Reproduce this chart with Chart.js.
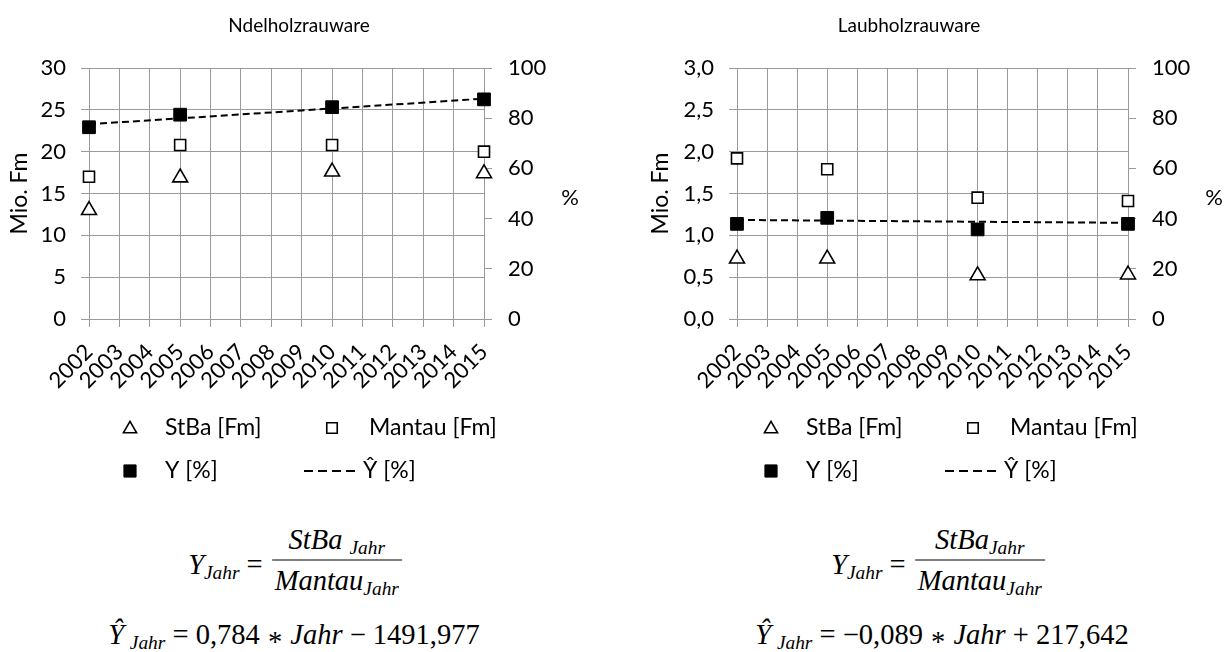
<!DOCTYPE html>
<html>
<head>
<meta charset="utf-8">
<script src="https://cdn.jsdelivr.net/npm/chart.js@4.4.0/dist/chart.umd.min.js"></script>
<style>
  html, body { margin: 0; padding: 0; background: #fff; }
  body { width: 1230px; height: 652px; overflow: hidden; position: relative; }
  .cv { position: absolute; top: 0; }
  .eq { position: absolute; font-family: 'Liberation Serif', serif; font-size: 28.5px; color: #000;
        white-space: nowrap; transform: translateX(-50%); }
  .eq i { font-style: italic; }
  .eq sub { font-size: 0.68em; font-style: italic; vertical-align: -0.28em; line-height: 0; }
  .eq .ast { position: relative; top: 0.24em; padding: 0 1px; }
  .eq1 { display: flex; align-items: center; transform: translate(-50%, -50%); }
  .eq1 .lhs { position: relative; top: 4px; line-height: 34px; margin-right: 9px; }
  .frac { display: flex; flex-direction: column; align-items: stretch; text-align: center; }
  .frac .n { line-height: 34px; padding: 0 3px 3px; border-bottom: 1.6px solid #000; }
  .frac .d { line-height: 34px; padding: 3px 3px 0; }
  .eq2 { line-height: 28px; }
</style>
</head>
<body>
<canvas id="cNadel" class="cv" style="left:0px" width="615" height="500"></canvas>
<canvas id="cLaub" class="cv" style="left:615px" width="615" height="500"></canvas>
<div id="eqN1" class="eq eq1" style="left:295px; top:560px"></div>
<div id="eqN2" class="eq eq2" style="left:294px; top:621px"></div>
<div id="eqL1" class="eq eq1" style="left:938px; top:560px"></div>
<div id="eqL2" class="eq eq2" style="left:942px; top:621px"></div>
<script>
// Category axis: every year from 2002 to 2015
const years = ['2002','2003','2004','2005','2006','2007','2008','2009','2010','2011','2012','2013','2014','2015'];
// Survey years with values
const surveyYears = ['2002','2005','2010','2015'];

// Nadelholz (Mio. Fm / %)
const nadelStBa   = [13.0, 16.9, 17.6, 17.4];
const nadelMantau = [17.0, 20.8, 20.8, 20.0];
const nadelY      = [76.4, 81.4, 84.4, 87.5];
const nadelTrend  = [0.784, -1491.977];   // slope, intercept

// Laubholz (Mio. Fm / %)
const laubStBa   = [0.72, 0.72, 0.52, 0.53];
const laubMantau = [1.92, 1.79, 1.45, 1.41];
const laubY      = [37.9, 40.3, 35.7, 37.9];
const laubTrend  = [-0.089, 217.642];     // slope, intercept

// Axis ticks
const nadelTicks = [0, 5, 10, 15, 20, 25, 30];
const laubTicks  = [0, 0.5, 1, 1.5, 2, 2.5, 3];
const pctTicks   = [0, 20, 40, 60, 80, 100];

const FONT = 'Lato';
const GRID = '#9a9a9a';
Chart.defaults.font.family = FONT;
Chart.defaults.color = '#000';

const fmtDe = (v, d) => v.toFixed(d).replace('.', ',');
const pts = vals => surveyYears.map((yr, i) => ({ x: yr, y: vals[i] }));
const trendPts = c => [years[0], years[years.length - 1]].map(yr => ({ x: yr, y: c[0] * Number(yr) + c[1] }));

// Titles, the "%" axis caption and a two-column legend drawn on the canvas
const decor = {
  id: 'decor',
  afterDraw(chart, args, o) {
    const ctx = chart.ctx;
    ctx.save();
    ctx.fillStyle = '#000';
    ctx.textBaseline = 'middle';
    ctx.textAlign = 'center';
    ctx.font = `${o.titleSize}px ${FONT}`;
    ctx.fillText(o.title, o.titleX, o.titleY);
    ctx.font = `${o.pctSize}px ${FONT}`;
    ctx.fillText('%', o.pctX, o.pctY);

    ctx.textAlign = 'left';
    ctx.font = `${o.legendSize}px ${FONT}`;
    const L = o.legend;
    const ds = chart.data.datasets;
    const marker = (d, x, y, r) => {
      ctx.save();
      ctx.fillStyle = d.backgroundColor;
      ctx.strokeStyle = d.borderColor;
      ctx.lineWidth = d.borderWidth;
      Chart.helpers.drawPoint(ctx, { pointStyle: d.pointStyle, radius: r, rotation: 0, borderWidth: d.borderWidth }, x, y);
      ctx.restore();
    };
    // row 1: StBa, Mantau ; row 2: Y, Ŷ
    marker(ds[3], L.m1, L.r1 + 1, 7.6);
    ctx.fillText(ds[3].label, L.t1, L.r1);
    marker(ds[2], L.m2, L.r1, 7.4);
    ctx.fillText(ds[2].label, L.t2, L.r1);
    marker(ds[0], L.m1, L.r2, 8.6);
    ctx.fillText(ds[0].label, L.t1, L.r2);
    ctx.save();
    ctx.strokeStyle = ds[1].borderColor;
    ctx.lineWidth = ds[1].borderWidth;
    ctx.setLineDash(L.dash);
    ctx.beginPath();
    ctx.moveTo(L.d0, L.r2);
    ctx.lineTo(L.d1, L.r2);
    ctx.stroke();
    ctx.restore();
    ctx.fillText(ds[1].label, L.t3, L.r2);
    ctx.restore();
  }
};

function makeChart(id, c) {
  const tickFont = { size: c.fontSize };
  return new Chart(document.getElementById(id), {
    type: 'line',
    data: {
      labels: years,
      datasets: [
        { label: 'Y [%]', data: pts(c.y), yAxisID: 'yR', showLine: false,
          pointStyle: 'rect', pointRadius: 9, backgroundColor: '#000', borderColor: '#000', borderWidth: 1, order: 0 },
        { label: 'Ŷ [%]', data: trendPts(c.trend), yAxisID: 'yR', showLine: true,
          borderColor: '#000', backgroundColor: '#000', borderWidth: 2, borderDash: [7, 4], pointRadius: 0, fill: false, order: 1 },
        { label: 'Mantau [Fm]', data: pts(c.mantau), yAxisID: 'yL', showLine: false,
          pointStyle: 'rect', pointRadius: 7.8, backgroundColor: '#fff', borderColor: '#000', borderWidth: 1.6, order: 2 },
        { label: 'StBa [Fm]', data: pts(c.stba), yAxisID: 'yL', showLine: false,
          pointStyle: 'triangle', pointRadius: 8.6, backgroundColor: '#fff', borderColor: '#000', borderWidth: 1.6, order: 3 }
      ]
    },
    options: {
      responsive: false,
      animation: false,
      devicePixelRatio: 1,
      layout: { padding: { top: 68, left: 0, right: 0, bottom: 500 - 319 - 80 } },
      plugins: {
        legend: { display: false },
        tooltip: { enabled: false },
        decor: c.decor
      },
      scales: {
        x: {
          type: 'category',
          offset: false,
          grid: { color: GRID, lineWidth: 1, tickLength: 8 },
          border: { color: GRID },
          ticks: { autoSkip: false, minRotation: 45, maxRotation: 45, padding: 12, font: tickFont },
          afterFit(s) { s.height = 80; }
        },
        yL: {
          position: 'left',
          min: 0, max: c.ticks[c.ticks.length - 1],
          afterBuildTicks(s) { s.ticks = c.ticks.map(v => ({ value: v })); },
          grid: { color: GRID, lineWidth: 1, tickLength: 8 },
          border: { color: GRID },
          ticks: { padding: 15, font: tickFont, callback: v => fmtDe(v, c.decimals) },
          title: { display: true, text: 'Mio. Fm', font: { size: c.titleAxisSize }, padding: { top: c.titlePad, bottom: 0 } },
          afterFit(s) { s.width = c.leftW; }
        },
        yR: {
          position: 'right',
          min: 0, max: 100,
          afterBuildTicks(s) { s.ticks = pctTicks.map(v => ({ value: v })); },
          grid: { drawOnChartArea: false, color: GRID, lineWidth: 1, tickLength: 8 },
          border: { color: GRID },
          ticks: { padding: 16, font: tickFont, callback: v => String(v) },
          afterFit(s) { s.width = c.rightW; }
        }
      }
    },
    plugins: [decor]
  });
}

makeChart('cNadel', {
  stba: nadelStBa, mantau: nadelMantau, y: nadelY, trend: nadelTrend,
  ticks: nadelTicks, decimals: 0, fontSize: 22, titleAxisSize: 23, titlePad: 6,
  leftW: 89, rightW: 615 - 484,
  decor: {
    title: 'Ndelholzrauware', titleX: 299, titleY: 26, titleSize: 19, pctSize: 22, legendSize: 23,
    pctX: 570, pctY: 198,
    legend: { r1: 428, r2: 471, m1: 130, t1: 165, m2: 332, t2: 369, d0: 304, d1: 357, t3: 363, dash: [9, 5] }
  }
});

makeChart('cLaub', {
  stba: laubStBa, mantau: laubMantau, y: laubY, trend: laubTrend,
  ticks: laubTicks, decimals: 1, fontSize: 22, titleAxisSize: 23, titlePad: 32,
  leftW: 122, rightW: 615 - 513,
  decor: {
    title: 'Laubholzrauware', titleX: 294, titleY: 26, titleSize: 19, pctSize: 22, legendSize: 23,
    pctX: 599, pctY: 198,
    legend: { r1: 428, r2: 471, m1: 156, t1: 191, m2: 358, t2: 395, d0: 330, d1: 383, t3: 389, dash: [9, 5] }
  }
});

// Formulas below each chart
function ratioHtml(gap) {
  return `<span class="lhs"><i>Y</i><sub>Jahr</sub> =</span>` +
         `<span class="frac"><span class="n"><i>StBa</i>${gap ? '&nbsp;' : ''}<sub>Jahr</sub></span>` +
         `<span class="d"><i>Mantau</i><sub>Jahr</sub></span></span>`;
}
function trendHtml(c) {
  const slope = (c[0] < 0 ? '−' : '') + fmtDe(Math.abs(c[0]), 3);
  const inter = (c[1] < 0 ? ' − ' : ' + ') + fmtDe(Math.abs(c[1]), 3);
  return `<i>Ŷ</i>&thinsp;<sub>Jahr</sub> = ${slope} <span class="ast">*</span> <i>Jahr</i>${inter}`;
}
document.getElementById('eqN1').innerHTML = ratioHtml(true);
document.getElementById('eqL1').innerHTML = ratioHtml(false);
document.getElementById('eqN2').innerHTML = trendHtml(nadelTrend);
document.getElementById('eqL2').innerHTML = trendHtml(laubTrend);
</script>
</body>
</html>
